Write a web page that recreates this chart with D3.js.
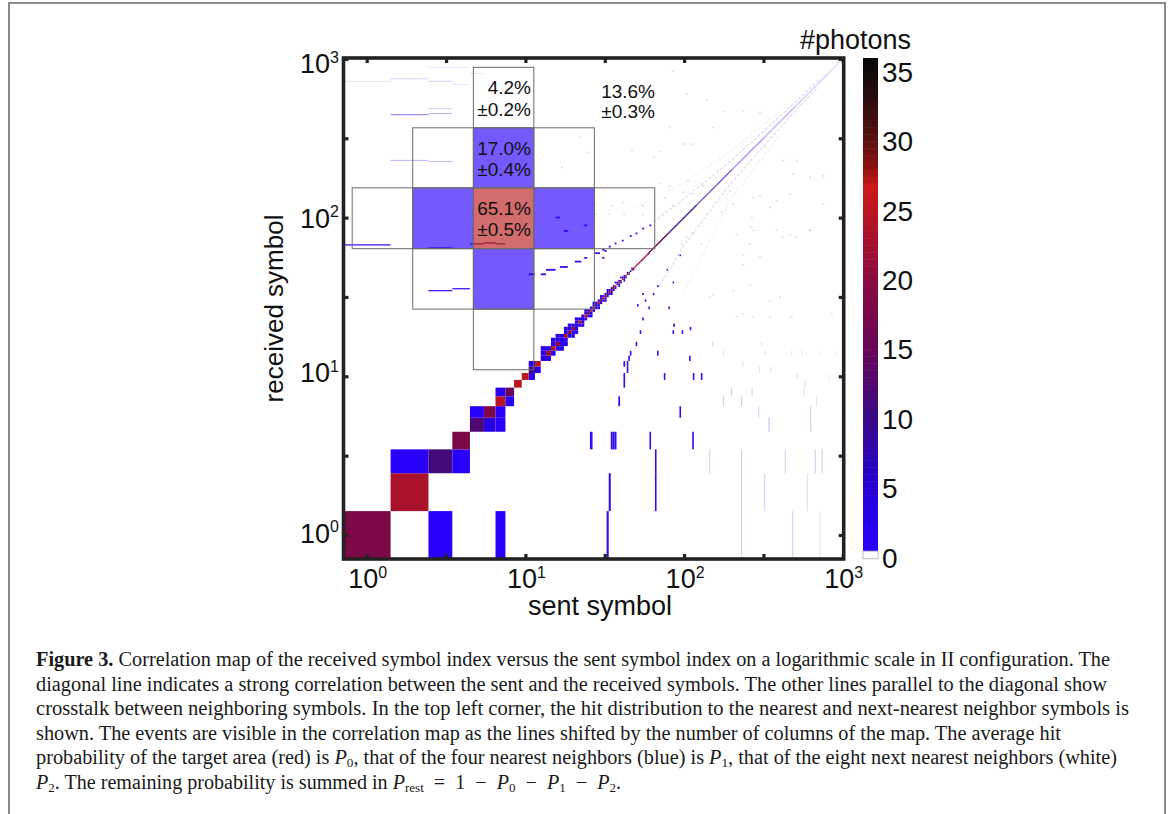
<!DOCTYPE html>
<html>
<head>
<meta charset="utf-8">
<script src="https://cdn.jsdelivr.net/npm/d3@7"></script>
<style>
  body { margin: 0; background: #fff; }
  svg { display: block; }
  text { font-family: "Liberation Sans", sans-serif; fill: #111; }
  .caption text { font-family: "Liberation Serif", serif; font-size: 20px; fill: #1a1a1a; }
</style>
</head>
<body>
<div id="chart"></div>
<script>
// all hits are [sent, received, #photons]
// strong cells at the low end of the map
const lowHits = [
  [1,1,18],[3,1,1],[7,1,1],[2,2,23],[2,3,1],[3,3,11],[4,3,1],[4,4,18],
  [5,5,12],[6,5,3],[7,5,1],[5,6,1],[6,6,18],[7,6,1],[7,7,25],[8,7,1],
  [7,8,1],[8,8,15],[9,9,25],[10,10,25]
];
// main diagonal photons, symbol 11 upwards
const diagStart = 11;
const diagValues = [11,24,3,22,23,20,3,22,18,21,3,23,4,25,17,25,22,5,24,16,22,24,14,25,20,23,26,9,26,19,25,6,24,26,21,8,26,23,26,20,24,26,22,12,25,18,22,26,14,20];
// blue cells next to the diagonal, [sent, received]
const nearDiag = [
  [11,10],[12,11],[11,12],[13,14],[13,15],[14,13],[14,15],[15,14],[15,16],[16,15],[16,17],[17,16],[17,18],[18,17],[18,19],
  [19,18],[19,20],[20,19],[20,21],[21,20],[21,22],[22,21],[22,23],[23,22],[23,24],[24,23],[24,25],[25,24],[25,26],[26,25],
  [26,27],[27,26],[27,28],[28,27],[28,29],[29,28],[29,30],[30,29],[30,31],[31,30],[31,32],[32,31],[32,33],[33,32],[33,34],
  [34,33],[34,35],[35,34],[35,36],[36,35],[36,37],[37,36],[38,39],[39,38],[39,40],[40,39],[41,42],[42,41],[42,43],[43,42],
  [44,45],[45,44],[47,48],[48,47],[21,23],[16,16],[17,17],[20,20],[23,23],
  [15,17],[17,15],[16,18],[18,16],[18,20],[20,18],[19,21],[21,19],[23,21],[24,26],[26,24],
  [27,29],[29,27],[30,32],[32,30],[33,35],[35,33],[37,39],[39,37],[40,42],[42,40]
];
// the diagonal thins out above symbol 60
const diagTailX = [60,80,120,200,320,500,800,960];
const diagTailV = [16,9,6,3.5,2.2,1.2,0.6];

// vertical marks below the diagonal
const lowerHits = [
  [33,1,2],[34,2,2],[66,2,2],[66,3,3],[26,4,2],[35,4,2],[36,4,3],[37,4,2],[61,4,2],[113,4,2],
  [39,7,2],[42,9,2],[42,10,2],[44,11,3],[44,12,3],[42,12,2],[45,13,2],[46,14,2],[50,16,2],
  [53,19,2],[55,23,2],[60,27,3],[51,28,2],[57,30,2],[55,33,2],[64,33,2],[68,37,2],
  [80,27,2],[85,39,2],[78,47,2],[94,58,1],[68,14,2],[75,10,2],[94,6,2],[108,13,2],
  [85,19,2],[97,19,2],[109,20,2],[86,21,2],[114,10,2],[128,10,2]
];
// faint marks, lower right
const faintColumns = [
  [230,1,3],[230,2,3],[230,3,3],[483,1,3],[718,1,2],[322,2,3],[597,2,2],[145,3,3],[434,3,3],
  [671,3,3],[739,3,3],[343,5,4],[627,5,3],[627,6,3],[295,6,3],[177,7,3],[230,7,3],[684,7,2],
  [199,8,3],[268,8,3],[569,8,2],[578,9,2],[517,10,2],[822,10,1],[298,11,2],[351,11,2],[234,12,2],
  [177,14,2],[324,14,2],[476,14,2],[550,14,2],[728,14,1],[906,14,1],[151,16,3],[308,16,2]
];
// horizontal marks on the left
const leftHits = [
  [3,35,2],[4,36,3],[1,68,2],[3,65,2],[5,69,13],[6,70,14],[7,69,13],
  [2,448,3],[2,449,3],[3,489,2],[3,456,3],[2,231,3],[3,227,3],[1,726,1],[2,755,2],[3,728,2],[4,695,1],[5,815,1],[3,890,1],[4,890,1]
];
// first crosstalk lines, y = x + columns
const crossHits = [
  [11,44,3],[13,44,3],[14,47,3],[15,47,3],[17,49,3],[18,49,3],[21,53,3],[22,53,3],[24,56,3],[28,60,3],[29,60,3],[31,63,3],[32,62,3],[34,66,3],[37,69,2],[41,72,2],
  [46,77,2],[50,80,2],[55,86,2],[61,90,2],[16,101,2],[18,83,2],[24,90,2],[31,56,3]
];
const crossAbove = [[64,94],[100,132],[185,216],[300,333],[500,533],[700,733]];
const crossBelow = [[70,37],[100,67],[185,152],[300,267],[500,467],[700,667]];
const crossAbove2 = [[50,116],[100,166],[200,266],[400,466]];
const crossBelow2 = [[100,34],[200,134],[400,334]];
// scattered faint dots
const faintDots = [
  [76,135],[85,120],[99,146],[81,160],[70,168],[114,142],[132,160],[106,172],[99,294],[153,374],[114,294],
  [139,551],[177,476],[236,476],[301,465],[85,851],[104,606],[81,374],[70,267],[64,242],[273,135],[301,139],
  [267,88],[260,69],[204,123],[383,129],[465,142],[621,84],[422,76],[465,79],[348,117],[488,190],[621,181],
  [753,185],[753,123],[214,79],[129,69],[173,109],[195,149],[104,76],[114,81],[97,69],[422,231],[512,231],[324,280],
  [41.5,126],[35,120],[55,120],[27.5,123],[28,106],[34,106],[42,106],[55,106],[27,92],[22,326],[25,260],[17,209],[47,267],
  [145,32],[153,33],[204,35],[260,38],[348,30],[402,32],[214,24],[236,25],[273,24],[348,24],[476,24],[851,25],
  [236,51],[236,59],[301,57],[273,84],[267,101],[383,84],[512,76],[622,84]
];

// inset with the hit distribution
const insetX = [0.81,1.95,4.7,11.3,27.2,65.3];
const insetY = [885,368,154,63.7,26.5,11];
const insetCells = [
  [2,0,"white"],[1,1,"white"],[2,1,"blue"],[3,1,"white"],[0,2,"white"],[1,2,"blue"],[2,2,"red"],
  [3,2,"blue"],[4,2,"white"],[1,3,"white"],[2,3,"blue"],[3,3,"white"],[2,4,"white"]
];
const insetLabels = [
  ["4.2%",531,94],["±0.2%",531,116],["17.0%",531,155],["±0.4%",531,176],
  ["65.1%",531,215],["±0.5%",531,236],["13.6%",655,98],["±0.3%",655,118]
];

const xTicks = [1,3.162,10,31.62,100,316.2,1000];
const decadeLabels = [[1,"0"],[10,"1"],[100,"2"],[1000,"3"]];
const yLabelShift = [7.5,5.8,10.3,14.3];
const cbarTicks = [0,5,10,15,20,25,30,35];
const colorStops = [0.5,5,10,15,20,22,26.5,28,30,35,36];
const colorValues = ["#2a00ff","#2500d0","#3a0a85","#6a0555","#8a0a40","#a01030","#cc1818","#8a1010","#551010","#0f0a0a","#050505"];

const captionLines = [
  {w:1074, parts:[["b","Figure 3."],[""," Correlation map of the received symbol index versus the sent symbol index on a logarithmic scale in II configuration. The"]]},
  {w:1071, parts:[["","diagonal line indicates a strong correlation between the sent and the received symbols. The other lines parallel to the diagonal show"]]},
  {w:1093, parts:[["","crosstalk between neighboring symbols. In the top left corner, the hit distribution to the nearest and next-nearest neighbor symbols is"]]},
  {w:1025, parts:[["","shown. The events are visible in the correlation map as the lines shifted by the number of columns of the map. The average hit"]]},
  {w:1081, parts:[["","probability of the target area (red) is "],["i","P"],["s","0"],["",", that of the four nearest neighbors (blue) is "],["i","P"],["s","1"],["",", that of the eight next nearest neighbors (white)"]]},
  {w:585, parts:[["i","P"],["s","2"],["",". The remaining probability is summed in "],["i","P"],["s","rest"],["","  =  1  −  "],["i","P"],["s","0"],["","  −  "],["i","P"],["s","1"],["","  −  "],["i","P"],["s","2"],["","."]]}
];
const captionBase = [666,691,715,740,764,789];

const width = 1171, height = 814;
const svg = d3.select("#chart").append("svg").attr("width", width).attr("height", height);

// page border, open at the bottom
svg.append("path")
  .attr("d", d3.line()([[9,814],[9,3],[1165,3],[1165,814]]))
  .attr("fill", "none").attr("stroke", "#8a8a8a").attr("stroke-width", 2);

let xScale = d3.scaleLog().domain([1,1000]).range([366.7,842.8]);
let yScale = d3.scaleLog().domain([1,1000]).range([535,58.9]);
const colorScale = d3.scaleLinear().domain(colorStops).range(colorValues).clamp(true);

// symbol n covers the geometric mean to its neighbours
function lowEdge(n) { return n <= 1 ? 0.707 : Math.sqrt(n * (n - 1)); }
function highEdge(n) { return Math.sqrt(n * (n + 1)); }

function drawCells(rows, opacity, minSize) {
  let m = minSize || 0;
  svg.append("g").attr("opacity", opacity).selectAll("rect").data(rows).enter().append("rect")
    .attr("x", d => xScale(lowEdge(d[0])))
    .attr("width", d => Math.max(m, xScale(highEdge(d[0])) - xScale(lowEdge(d[0]))))
    .attr("y", d => yScale(highEdge(d[1])))
    .attr("height", d => Math.max(m, yScale(lowEdge(d[1])) - yScale(highEdge(d[1]))))
    .attr("fill", d => colorScale(d[2]));
}

function drawLine(points, opacity) {
  svg.append("path")
    .attr("d", d3.line().x(d => xScale(d[0])).y(d => yScale(d[1]))(points))
    .attr("fill", "none").attr("stroke", "#5040d0")
    .attr("stroke-width", 1.1).attr("stroke-dasharray", "3 2").attr("opacity", opacity);
}

drawLine(crossAbove, 0.22);
drawLine(crossBelow, 0.22);
drawLine(crossAbove2, 0.08);
drawLine(crossBelow2, 0.08);

// faint dots get a fixed 2x1 size or they would vanish at the top of the map
svg.append("g").selectAll("rect").data(faintDots).enter().append("rect")
  .attr("x", d => xScale(d[0]) - 1).attr("y", d => yScale(d[1]))
  .attr("width", 2).attr("height", 1.5)
  .attr("fill", "#7a70c8").attr("opacity", 0.25);

// these columns are narrower than a pixel so widen them a bit
svg.append("g").selectAll("rect").data(faintColumns).enter().append("rect")
  .attr("x", d => xScale(d[0]) - 0.5).attr("width", 1.1)
  .attr("y", d => yScale(highEdge(d[1])))
  .attr("height", d => yScale(lowEdge(d[1])) - yScale(highEdge(d[1])))
  .attr("fill", "#5a50c8").attr("opacity", d => d[2] * 0.09);

drawCells(lowerHits, 0.95, 1.6);
drawCells(crossHits, 0.95, 1.8);

// left marks, at least a pixel high
svg.append("g").selectAll("rect").data(leftHits).enter().append("rect")
  .attr("x", d => xScale(lowEdge(d[0])))
  .attr("width", d => xScale(highEdge(d[0])) - xScale(lowEdge(d[0])))
  .attr("y", d => yScale(d[1]))
  .attr("height", d => d[1] > 100 ? 1 : 1.4)
  .attr("fill", d => d[2] > 5 ? colorScale(d[2]) : "#2a00ff")
  .attr("opacity", d => d[1] > 100 ? d[2] * 0.1 : 0.85);

// tail of the main diagonal
const opacityTail = d3.scaleLinear().domain([0,10]).range([0.08,1]).clamp(true);
svg.append("g").selectAll("line").data(diagTailV).enter().append("line")
  .attr("x1", (d,i) => xScale(diagTailX[i]))
  .attr("y1", (d,i) => yScale(diagTailX[i]))
  .attr("x2", (d,i) => xScale(diagTailX[i+1]))
  .attr("y2", (d,i) => yScale(diagTailX[i+1]))
  .attr("stroke", d => colorScale(d))
  .attr("stroke-width", 1.4)
  .attr("opacity", d => opacityTail(d));

drawCells(nearDiag.map(d => [d[0], d[1], 2]), 1);
drawCells(diagValues.map((v,i) => [diagStart + i, diagStart + i, v]), 1, 1.6);
drawCells(lowHits, 1);

// inset rectangles
const insetFill = { white: "none", blue: "#2a00ff", red: "#bb1f1f" };
svg.append("g").selectAll("rect").data(insetCells).enter().append("rect")
  .attr("x", d => xScale(insetX[d[0]]))
  .attr("y", d => yScale(insetY[d[1]]))
  .attr("width", d => xScale(insetX[d[0]+1]) - xScale(insetX[d[0]]))
  .attr("height", d => yScale(insetY[d[1]+1]) - yScale(insetY[d[1]]))
  .attr("fill", d => insetFill[d[2]])
  .attr("fill-opacity", 0.65);
svg.append("g").selectAll("rect").data(insetCells).enter().append("rect")
  .attr("x", d => xScale(insetX[d[0]]))
  .attr("y", d => yScale(insetY[d[1]]))
  .attr("width", d => xScale(insetX[d[0]+1]) - xScale(insetX[d[0]]))
  .attr("height", d => yScale(insetY[d[1]+1]) - yScale(insetY[d[1]]))
  .attr("fill", "none").attr("stroke", "#6a6a6a").attr("stroke-width", 1);

svg.append("g").selectAll("text").data(insetLabels).enter().append("text")
  .attr("x", d => d[1]).attr("y", d => d[2])
  .attr("text-anchor", "end").attr("font-size", 19)
  .text(d => d[0]);

// frame and inward ticks
svg.append("rect")
  .attr("x", 343.5).attr("y", 58).attr("width", 500.2).attr("height", 501)
  .attr("fill", "none").attr("stroke", "#222").attr("stroke-width", 3.6);

function addAxis(axis, transform) {
  let g = svg.append("g").attr("transform", transform)
    .call(axis.tickValues(xTicks).tickSize(-5).tickFormat(""));
  g.select(".domain").remove();
  g.selectAll("line").attr("stroke", "#222").attr("stroke-width", 3.2);
}
addAxis(d3.axisBottom(xScale), "translate(0,559)");
addAxis(d3.axisTop(xScale), "translate(0,58)");
addAxis(d3.axisLeft(yScale), "translate(343.5,0)");
addAxis(d3.axisRight(yScale), "translate(843.7,0)");

// decade labels with raised exponents
function decadeText(sel) {
  sel.attr("font-size", 27).text("10")
    .append("tspan").attr("font-size", 16).attr("dy", -10.5).text(d => d[1]);
}
svg.append("g").selectAll("text").data(decadeLabels).enter().append("text")
  .attr("x", d => xScale(d[0]) + 1).attr("y", 588).attr("text-anchor", "middle")
  .call(decadeText);
svg.append("g").selectAll("text").data(decadeLabels).enter().append("text")
  .attr("x", 339).attr("y", (d,i) => yScale(d[0]) + yLabelShift[i]).attr("text-anchor", "end")
  .call(decadeText);

svg.append("text").attr("x", 600).attr("y", 615).attr("text-anchor", "middle")
  .attr("font-size", 27).text("sent symbol");
svg.append("text").attr("transform", "translate(283,308.5) rotate(-90)").attr("text-anchor", "middle")
  .attr("font-size", 26).text("received symbol");

// colorbar
let cbarScale = d3.scaleLinear().domain([0,36]).range([557.5,58]);
const cbarLevels = d3.range(0.5, 36, 0.5);
svg.append("g").selectAll("rect").data(cbarLevels).enter().append("rect")
  .attr("x", 863).attr("width", 15)
  .attr("y", d => cbarScale(d + 0.5))
  .attr("height", d => cbarScale(d) - cbarScale(d + 0.5) + 0.5)
  .attr("fill", d => colorScale(d));
svg.append("rect").attr("x", 863).attr("y", 551.2).attr("width", 15).attr("height", 7.5)
  .attr("fill", "#fff").attr("stroke", "#bbb").attr("stroke-width", 1);
let cbarAxis = svg.append("g").attr("transform", "translate(878,0)")
  .call(d3.axisRight(cbarScale).tickValues(cbarTicks).tickSize(0).tickPadding(4));
cbarAxis.select(".domain").remove();
cbarAxis.selectAll("text")
  .attr("font-family", "Liberation Sans").attr("font-size", 28).attr("dy", 9.5).attr("fill", "#111");
svg.append("text").attr("x", 911).attr("y", 49).attr("text-anchor", "end")
  .attr("font-size", 27).text("#photons");

// caption
let caption = svg.append("g").attr("class", "caption");
captionLines.forEach(function(line, k) {
  let t = caption.append("text").attr("x", 36).attr("y", captionBase[k])
    .attr("textLength", line.w).attr("lengthAdjust", "spacingAndGlyphs")
    .attr("xml:space", "preserve");
  let lowered = false;
  line.parts.forEach(function(p) {
    let s = t.append("tspan").text(p[1]);
    if (p[0] == "b") s.attr("font-weight", "bold");
    if (p[0] == "i") s.attr("font-style", "italic");
    if (lowered && p[0] != "s") { s.attr("dy", -3); lowered = false; }
    if (p[0] == "s") { s.attr("font-size", 13).attr("dy", 3); lowered = true; }
  });
});
</script>
</body>
</html>
